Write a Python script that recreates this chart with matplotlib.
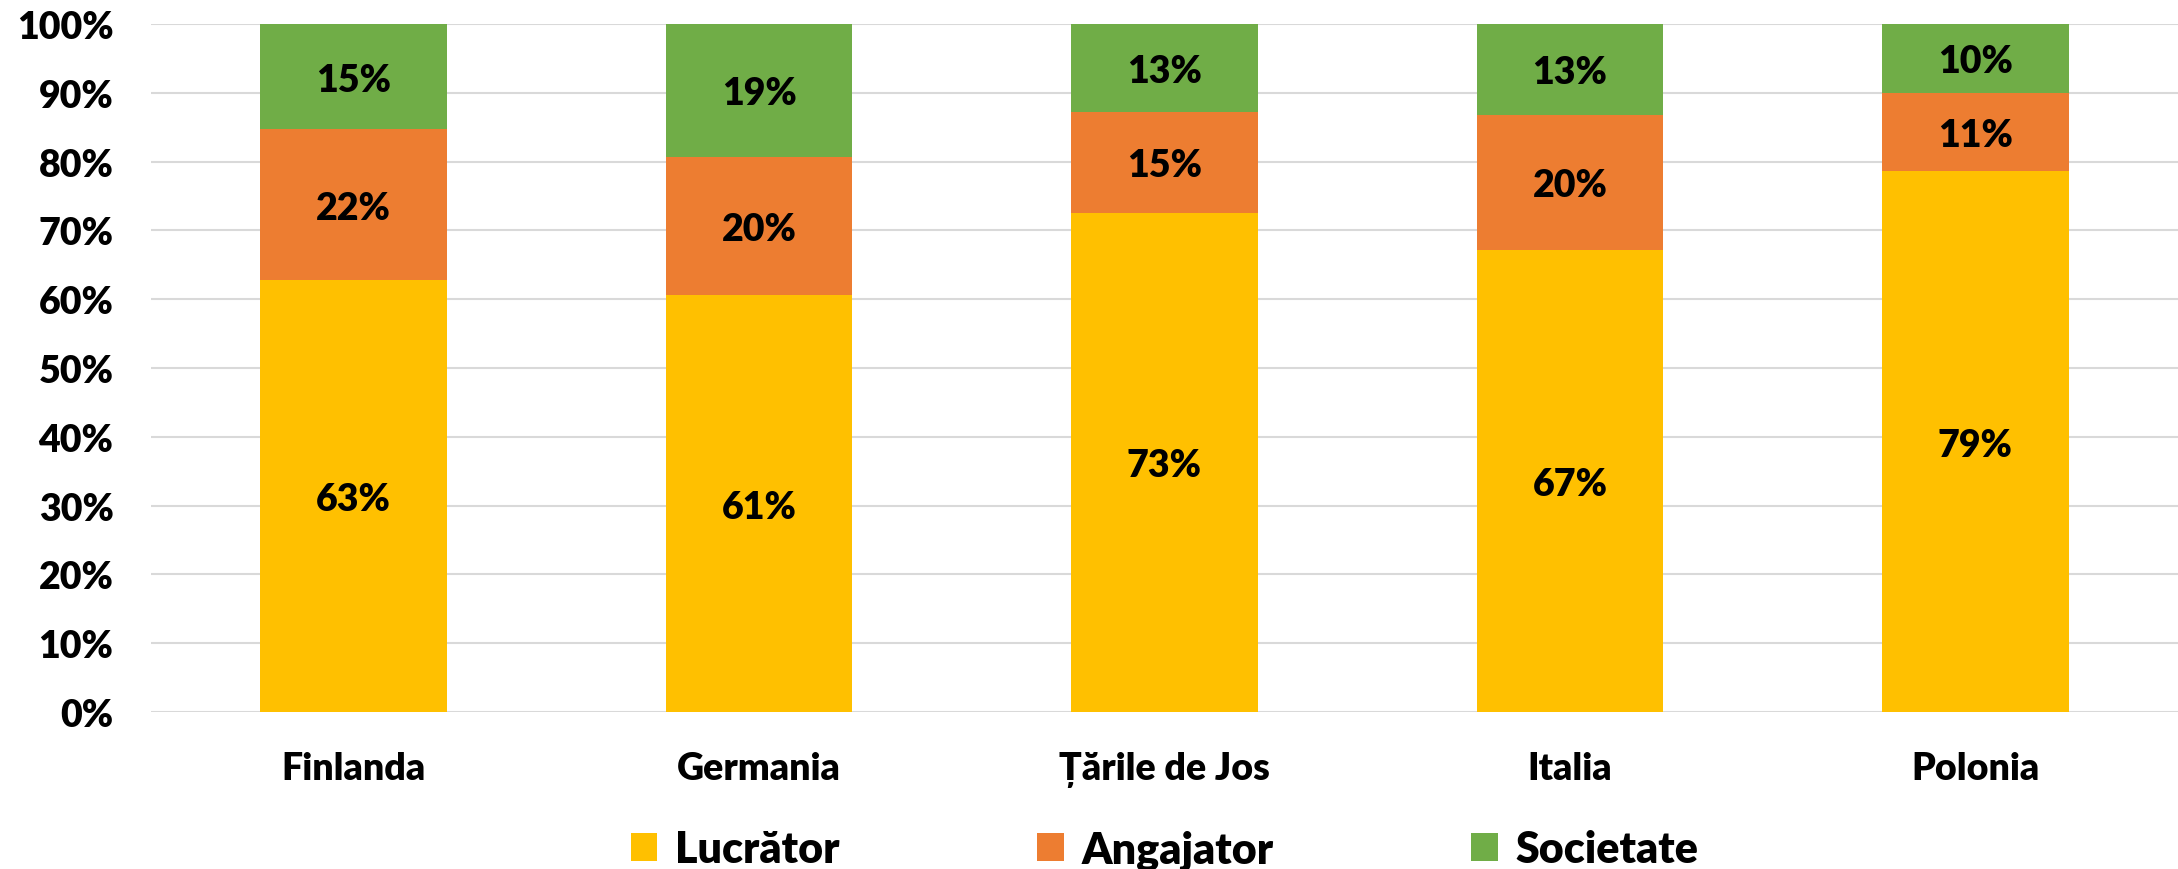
import matplotlib
matplotlib.use('Agg')
import matplotlib.pyplot as plt
from matplotlib.patches import Patch
import numpy as np

plt.rcParams['font.family'] = ['Lato', 'DejaVu Sans']
plt.rcParams['font.weight'] = 'heavy'

# values (share of cost, %)
countries = ['Finlanda', 'Germania', 'Țările de Jos', 'Italia', 'Polonia']
lucrator = [62.8, 60.6, 72.6, 67.2, 78.6]
angajator = [21.9, 20.1, 14.6, 19.6, 11.4]
societate = [15.3, 19.3, 12.8, 13.2, 10.0]

series_names = ['Lucrător', 'Angajator', 'Societate']
colors = ['#FFC000', '#ED7D31', '#70AD47']
W = 'heavy'

fig = plt.figure(figsize=(21.78, 8.70), dpi=100)
ax = fig.add_axes([151 / 2178, 1 - 713 / 870, 1 - 151 / 2178, (713 - 25) / 870])

x = np.arange(len(countries))
bottom = np.zeros(len(countries))
fs = 27
for vals, col in zip([lucrator, angajator, societate], colors):
    vals = np.asarray(vals)
    ax.bar(x, vals, 0.46, bottom=bottom, color=col, zorder=3)
    for xi, b, v in zip(x, bottom, vals):
        ax.text(xi, b + v / 2, '%d%%' % round(v), ha='center', va='center_baseline',
                fontsize=fs, fontweight=W, color='black', zorder=4)
    bottom += vals

ax.set_xlim(-0.5, len(countries) - 0.5)
ax.set_ylim(0, 100)
ax.set_yticks(np.arange(0, 101, 10))
ax.set_yticklabels(['%d%%' % v for v in range(0, 101, 10)])
ax.set_xticks(x)
ax.set_xticklabels(countries)
ax.tick_params(axis='both', length=0, labelsize=fs)
ax.tick_params(axis='y', pad=27)
ax.tick_params(axis='x', pad=28)
for lbl in ax.get_xticklabels() + ax.get_yticklabels():
    lbl.set_fontweight(W)

ax.grid(axis='y', color='#d9d9d9', linewidth=1.5, zorder=0)
for s in ax.spines.values():
    s.set_visible(False)

handles = [Patch(facecolor=c, edgecolor='none') for c in colors]
ax.legend(handles, series_names, loc='center', bbox_to_anchor=(0.5, -0.2),
          ncol=3, frameon=False, prop={'size': 31, 'weight': W},
          handlelength=0.62, handleheight=0.62, handletextpad=0.4,
          columnspacing=4.6)

fig.savefig('out.png', dpi=100)
